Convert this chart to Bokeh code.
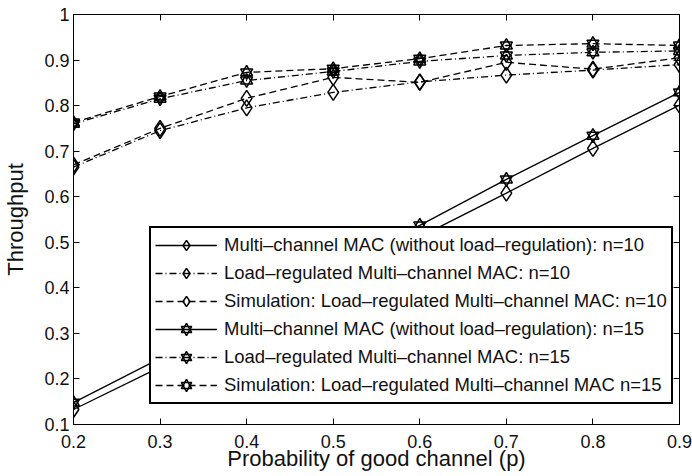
from bokeh.plotting import figure
from bokeh.models import Legend, LegendItem, LinearAxis, Range1d, FixedTicker
from bokeh.embed import file_html
from bokeh.resources import INLINE

# ---- data ----
p_good = [0.2, 0.3, 0.4, 0.5, 0.6, 0.7, 0.8, 0.9]
mac_n10 = [0.133, 0.226, 0.321, 0.416, 0.512, 0.608, 0.706, 0.801]
lr_n10 = [0.665, 0.745, 0.795, 0.829, 0.852, 0.867, 0.878, 0.890]
sim_n10 = [0.670, 0.750, 0.816, 0.862, 0.851, 0.895, 0.880, 0.905]
mac_n15 = [0.148, 0.245, 0.343, 0.440, 0.537, 0.638, 0.734, 0.829]
lr_n15 = [0.760, 0.815, 0.855, 0.875, 0.897, 0.910, 0.917, 0.920]
sim_n15 = [0.763, 0.820, 0.873, 0.881, 0.903, 0.932, 0.936, 0.932]

x_ticks = [0.2, 0.3, 0.4, 0.5, 0.6, 0.7, 0.8, 0.9]
y_ticks = [0.1, 0.2, 0.3, 0.4, 0.5, 0.6, 0.7, 0.8, 0.9, 1.0]

labels = [
    "Multi–channel MAC (without load–regulation): n=10",
    "Load–regulated Multi–channel MAC: n=10",
    "Simulation: Load–regulated Multi–channel MAC: n=10",
    "Multi–channel MAC (without load–regulation): n=15",
    "Load–regulated Multi–channel MAC: n=15",
    "Simulation: Load–regulated Multi–channel MAC n=15",
]

FONT = "Liberation Sans"
TXT = "#111111"

p = figure(width=692, height=476, x_range=Range1d(0.2, 0.9), y_range=Range1d(0.1, 1.0),
           output_backend="svg", toolbar_location=None,
           min_border_left=72, min_border_right=13, min_border_top=14, min_border_bottom=52)
p.xgrid.visible = False
p.ygrid.visible = False
p.outline_line_color = "black"
p.outline_line_width = 1
p.background_fill_color = "white"

for ax in p.xaxis:
    ax.ticker = FixedTicker(ticks=x_ticks)
    ax.axis_label = "Probability of good channel (p)"
for ax in p.yaxis:
    ax.ticker = FixedTicker(ticks=y_ticks)
    ax.axis_label = "Throughput"
    ax.major_label_overrides = {1.0: "1"}

for ax in list(p.xaxis) + list(p.yaxis):
    ax.major_tick_in = 6
    ax.major_tick_out = 0
    ax.minor_tick_in = 0
    ax.minor_tick_out = 0
    ax.major_label_standoff = 4
    ax.axis_label_standoff = 13
    ax.major_label_text_font = FONT
    ax.major_label_text_font_size = "18px"
    ax.major_label_text_color = TXT
    ax.axis_label_text_font = FONT
    ax.axis_label_text_font_size = "22px"
    ax.axis_label_text_font_style = "normal"
    ax.axis_label_text_color = TXT
    ax.axis_line_color = "black"
    ax.major_tick_line_color = "black"

p.xaxis.major_label_standoff = 10
p.xaxis.axis_label_standoff = -5

right = LinearAxis(ticker=FixedTicker(ticks=y_ticks), major_label_text_font_size="0px",
                   major_tick_in=6, major_tick_out=0, minor_tick_in=0, minor_tick_out=0,
                   major_label_standoff=0)
top = LinearAxis(ticker=FixedTicker(ticks=x_ticks), major_label_text_font_size="0px",
                 major_tick_in=6, major_tick_out=0, minor_tick_in=0, minor_tick_out=0,
                 major_label_standoff=0)
p.add_layout(right, "right")
p.add_layout(top, "above")

LW = 1.3
MLW = 1.5
DASH = "7 4"
DASHDOT = "7 3 1 3"

def diamond_series(y, dash):
    r1 = p.line(p_good, y, line_color="black", line_width=LW, line_dash=dash)
    r2 = p.scatter(p_good, y, marker="diamond", size=16, fill_color=None,
                   line_color="black", line_width=MLW)
    return [r1, r2]

def star_series(y, dash):
    r1 = p.line(p_good, y, line_color="black", line_width=LW, line_dash=dash)
    r2 = p.scatter(p_good, y, marker="triangle", size=12, fill_color=None,
                   line_color="black", line_width=MLW)
    r3 = p.scatter(p_good, y, marker="inverted_triangle", size=12, fill_color=None,
                   line_color="black", line_width=MLW)
    return [r1, r2, r3]

rs = [
    diamond_series(mac_n10, "solid"),
    diamond_series(lr_n10, DASHDOT),
    diamond_series(sim_n10, DASH),
    star_series(mac_n15, "solid"),
    star_series(lr_n15, DASHDOT),
    star_series(sim_n15, DASH),
]

legend = Legend(items=[LegendItem(label=l, renderers=r) for l, r in zip(labels, rs)],
                location=(76, 20), padding=4, spacing=2, glyph_width=62, glyph_height=26,
                label_standoff=7, label_text_font=FONT, label_text_font_size="18.5px",
                label_text_color=TXT, label_height=26,
                border_line_color="black", border_line_width=2, border_line_alpha=1.0,
                background_fill_color="white", background_fill_alpha=1.0, margin=0)
p.add_layout(legend, "center")

open("out.html", "w").write(file_html(p, INLINE))
